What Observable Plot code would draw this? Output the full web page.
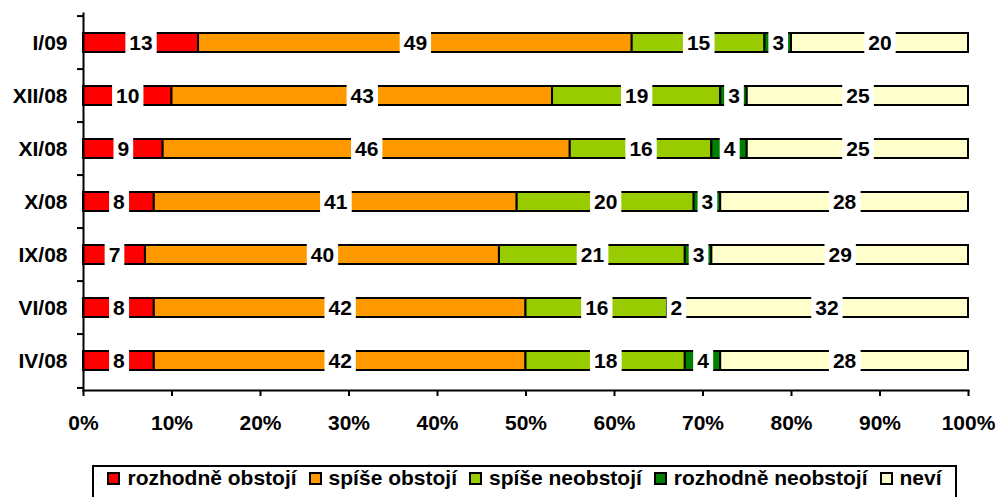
<!DOCTYPE html>
<html>
<head>
<meta charset="utf-8">
<script src="https://cdn.jsdelivr.net/npm/d3@7"></script>
<script src="https://cdn.jsdelivr.net/npm/@observablehq/plot@0.6"></script>
<style>
  html, body { margin: 0; padding: 0; background: #ffffff; overflow: hidden; }
  body { font-family: "Liberation Sans", Arial, Helvetica, sans-serif; }
  #chart svg { display: block; }
  #legend {
    box-sizing: border-box;
    margin-left: 92px;
    width: 865px;
    height: 60px;
    border: 2px solid #000;
    display: flex;
    justify-content: center;
    align-items: flex-start;
    font-size: 21px;
    font-weight: bold;
    line-height: 22px;
    color: #000;
  }
  .item { display: flex; align-items: center; margin: 0 6px; white-space: nowrap; }
  .sw { box-sizing: border-box; width: 13px; height: 13px; border: 2px solid #000; margin-right: 7px; }
</style>
</head>
<body>
<div id="chart"></div>
<div id="legend"></div>
<script>
// ---- data ----
const categories = ["I/09", "XII/08", "XI/08", "X/08", "IX/08", "VI/08", "IV/08"];
const seriesNames = ["rozhodně obstojí", "spíše obstojí", "spíše neobstojí", "rozhodně neobstojí", "neví"];
const seriesColors = ["#FF0000", "#FF9900", "#99CC00", "#008000", "#FFFFCC"];
const rozhodneObstoji   = [13, 10,  9,  8,  7,  8,  8];
const spiseObstoji      = [49, 43, 46, 41, 40, 42, 42];
const spiseNeobstoji    = [15, 19, 16, 20, 21, 16, 18];
const rozhodneNeobstoji = [ 3,  3,  4,  3,  3,  2,  4];
const nevi              = [20, 25, 25, 28, 29, 32, 28];
const xTicks = [0, 10, 20, 30, 40, 50, 60, 70, 80, 90, 100];

const seriesValues = [rozhodneObstoji, spiseObstoji, spiseNeobstoji, rozhodneNeobstoji, nevi];
const tidy = [];
seriesNames.forEach((s, si) => {
  categories.forEach((c, ci) => {
    tidy.push({cat: c, series: s, value: seriesValues[si][ci]});
  });
});

// ---- layout ----
const W = 998, H = 465;
const mTop = 13, mBottom = 75, mLeft = 83, mRight = 30;
const step = (H - mBottom - mTop) / categories.length;
const font = {fontFamily: "'Liberation Sans', Arial, Helvetica, sans-serif", fontSize: "21px", fontWeight: "bold"};

const chart = Plot.plot({
  width: W,
  height: H,
  marginTop: mTop,
  marginBottom: mBottom,
  marginLeft: mLeft,
  marginRight: mRight,
  style: {background: "#fff", color: "#000", ...font},
  x: {domain: [0, 100], label: null},
  y: {domain: categories, padding: 0, label: null},
  color: {domain: seriesNames, range: seriesColors},
  marks: [
    Plot.barX(tidy, Plot.stackX({
      x: "value", y: "cat", z: "series", fill: "series",
      stroke: "#000", strokeWidth: 2, insetTop: 17, insetBottom: 17
    })),
    Plot.text(tidy, Plot.stackX({
      x: "value", y: "cat", z: "series", text: d => String(d.value),
      fill: "#000", fontSize: 21, fontWeight: "bold", ariaLabel: "seg-label"
    })),
    Plot.frame({anchor: "left", stroke: "#000", strokeWidth: 2}),
    Plot.frame({anchor: "bottom", stroke: "#000", strokeWidth: 2}),
    Plot.ruleY(categories, {y: d => d, x1: 0, x2: 0, insetLeft: -6, dy: -step / 2, stroke: "#000", strokeWidth: 2}),
    Plot.ruleY(categories.slice(-1), {y: d => d, x1: 0, x2: 0, insetLeft: -6, dy: step / 2, stroke: "#000", strokeWidth: 2}),
    Plot.axisY({tickSize: 0, tickPadding: 16, fontSize: 21, fontWeight: "bold", label: null}),
    Plot.axisX({ticks: xTicks, tickFormat: d => d + "%", tickSize: 6, tickPadding: 19, strokeWidth: 2, fontSize: 21, fontWeight: "bold", label: null})
  ]
});

document.getElementById("chart").appendChild(chart);

// white label backgrounds (like the original data-label fill)
const NS = "http://www.w3.org/2000/svg";
function addLabelBoxes() {
  const ys = chart.scale("y");
  const centers = categories.map(c => ys.apply(c) + (ys.bandwidth || 0) / 2);
  const groups = Array.from(chart.querySelectorAll("g"));
  let g = groups.find(el => el.getAttribute("aria-label") === "seg-label");
  if (!g) g = groups.find(el => el.getAttribute("aria-label") === "text");
  if (!g) return;
  const bg = document.createElementNS(NS, "g");
  g.parentNode.insertBefore(bg, g);
  const svgRect = chart.getBoundingClientRect();
  g.querySelectorAll("text").forEach(t => {
    const r0 = t.getBoundingClientRect();
    const x0 = r0.left - svgRect.left;
    const yc = r0.top - svgRect.top + r0.height / 2;
    let best = centers[0];
    centers.forEach(c => { if (Math.abs(c - yc) < Math.abs(best - yc)) best = c; });
    const r = document.createElementNS(NS, "rect");
    r.setAttribute("x", x0 - 4);
    r.setAttribute("width", r0.width + 8);
    r.setAttribute("y", best - 12.5);
    r.setAttribute("height", 25);
    r.setAttribute("fill", "#ffffff");
    bg.appendChild(r);
  });
}
try { addLabelBoxes(); } catch (e) {}

// legend
const legend = document.getElementById("legend");
seriesNames.forEach((s, i) => {
  const item = document.createElement("div");
  item.className = "item";
  const sw = document.createElement("span");
  sw.className = "sw";
  sw.style.background = seriesColors[i];
  const tx = document.createElement("span");
  tx.textContent = s;
  item.appendChild(sw);
  item.appendChild(tx);
  legend.appendChild(item);
});
</script>
</body>
</html>
